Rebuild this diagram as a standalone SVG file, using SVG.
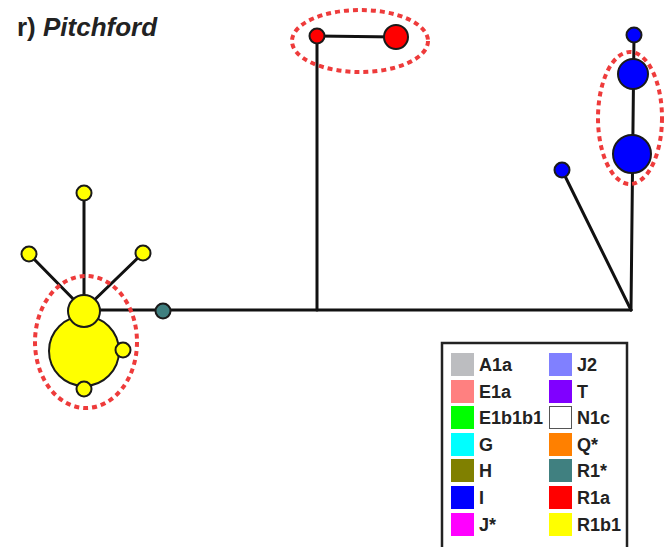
<svg xmlns="http://www.w3.org/2000/svg" width="667" height="547" viewBox="0 0 667 547">
<style>
.e{stroke:#111;stroke-width:3;fill:none;stroke-linecap:round}
.n{stroke:#1a1a1a;stroke-width:2}
.y{fill:#ffff00}.b{fill:#0000ff}.r{fill:#ff0000}.t{fill:#3f7f7f}
.ring{fill:none;stroke:#ee3b3b;stroke-width:4;stroke-dasharray:5 4}
.lg{font-family:"Liberation Sans",Arial,sans-serif;font-weight:bold;font-size:18px;fill:#222}
</style>
<rect width="667" height="547" fill="#fff"/>
<text x="17" y="36" font-family="Liberation Sans,Arial,sans-serif" font-weight="bold" font-size="26" fill="#222">r) <tspan font-style="italic">Pitchford</tspan></text>
<g id="connectors">
<line class="e" x1="84" y1="310" x2="631" y2="310"/>
<line class="e" x1="317" y1="36" x2="317" y2="310"/>
<line class="e" x1="317" y1="36" x2="396" y2="37"/>
<line class="e" x1="634" y1="35" x2="631" y2="310"/>
<line class="e" x1="562" y1="170" x2="631" y2="310"/>
<line class="e" x1="84" y1="193" x2="84" y2="310"/>
<line class="e" x1="29" y1="254" x2="84" y2="310"/>
<line class="e" x1="143" y1="253" x2="84" y2="310"/>
</g>
<g id="ring-yellow"><ellipse class="ring" cx="86" cy="342" rx="51" ry="66"/></g>
<g id="ring-red"><ellipse class="ring" cx="360" cy="41" rx="68" ry="31"/></g>
<g id="ring-blue"><ellipse class="ring" cx="630" cy="118" rx="32" ry="66"/></g>
<g id="n-y-big"><circle class="n y" cx="84" cy="351" r="35"/></g>
<g id="n-y-mid"><circle class="n y" cx="84" cy="311" r="16"/></g>
<g id="n-y-top"><circle class="n y" cx="84" cy="193" r="7.5"/></g>
<g id="n-y-left"><circle class="n y" cx="29" cy="254" r="7.5"/></g>
<g id="n-y-right"><circle class="n y" cx="143" cy="253" r="7.5"/></g>
<g id="n-y-side"><circle class="n y" cx="123" cy="350" r="7.5"/></g>
<g id="n-y-bottom"><circle class="n y" cx="84" cy="389" r="7.5"/></g>
<g id="n-teal"><circle class="n t" cx="163" cy="311" r="7.5"/></g>
<g id="n-r-small"><circle class="n r" cx="317" cy="36" r="7.5"/></g>
<g id="n-r-big"><circle class="n r" cx="396" cy="37" r="12"/></g>
<g id="n-b-top"><circle class="n b" cx="634" cy="35" r="7.5"/></g>
<g id="n-b-mid"><circle class="n b" cx="633" cy="74" r="15"/></g>
<g id="n-b-big"><circle class="n b" cx="632" cy="154" r="19"/></g>
<g id="n-b-side"><circle class="n b" cx="562" cy="170" r="7.5"/></g>
<g id="legend">
<rect x="442" y="343" width="185" height="210" fill="#fff" stroke="#222" stroke-width="2.5"/>
<rect x="451" y="353" width="23" height="23" fill="#bcbdc0"/><text class="lg" x="479" y="371">A1a</text>
<rect x="451" y="380" width="23" height="23" fill="#ff8080"/><text class="lg" x="479" y="398">E1a</text>
<rect x="451" y="406" width="23" height="23" fill="#00ff00"/><text class="lg" x="479" y="424">E1b1b1</text>
<rect x="451" y="433" width="23" height="23" fill="#00ffff"/><text class="lg" x="479" y="451">G</text>
<rect x="451" y="459" width="23" height="23" fill="#808000"/><text class="lg" x="479" y="477">H</text>
<rect x="451" y="486" width="23" height="23" fill="#0000ff"/><text class="lg" x="479" y="504">I</text>
<rect x="451" y="513" width="23" height="23" fill="#ff00ff"/><text class="lg" x="479" y="531">J*</text>
<rect x="549" y="353" width="23" height="23" fill="#8080ff"/><text class="lg" x="577" y="371">J2</text>
<rect x="549" y="380" width="23" height="23" fill="#8000ff"/><text class="lg" x="577" y="398">T</text>
<rect x="549.5" y="406.5" width="22" height="22" fill="#fff" stroke="#555" stroke-width="1"/><text class="lg" x="577" y="424">N1c</text>
<rect x="549" y="433" width="23" height="23" fill="#ff8000"/><text class="lg" x="577" y="451">Q*</text>
<rect x="549" y="459" width="23" height="23" fill="#408080"/><text class="lg" x="577" y="477">R1*</text>
<rect x="549" y="486" width="23" height="23" fill="#ff0000"/><text class="lg" x="577" y="504">R1a</text>
<rect x="549" y="513" width="23" height="23" fill="#ffff00"/><text class="lg" x="577" y="531">R1b1</text>
</g>
</svg>
